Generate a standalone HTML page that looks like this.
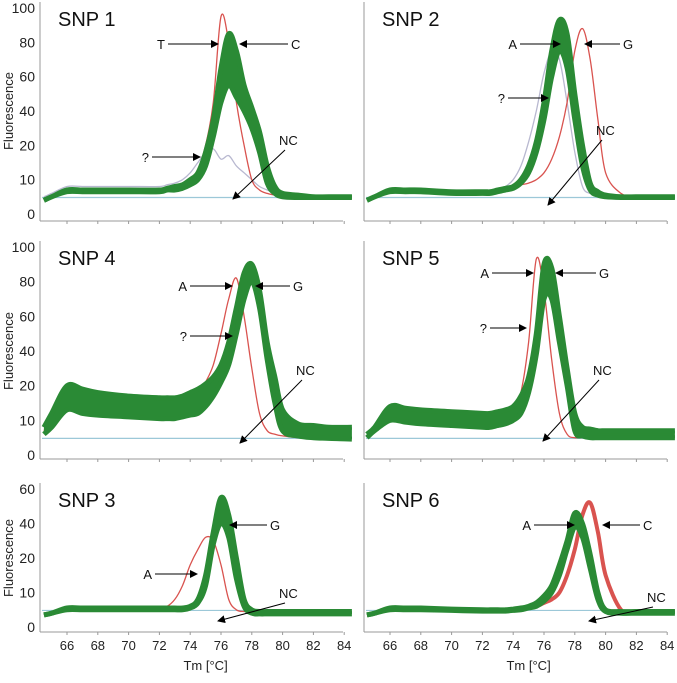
<!DOCTYPE html>
<html><head><meta charset="utf-8">
<style>
body{margin:0;background:#fff;}
svg{display:block;font-family:"Liberation Sans",sans-serif;}
</style></head>
<body>
<svg id="chart" width="677" height="683" viewBox="0 0 677 683"></svg>
<script>
// Shared temperature sample points (°C)
const temps = [64.5,65,66,67,68,70,72,72.5,73,73.5,74,74.5,75,75.5,76,76.5,77,77.5,78,78.5,79,79.5,80,81,82,83,84.5];
const xTicks = [66,68,70,72,74,76,78,80,82,84];
const yTicksBig = [0,10,20,40,60,80,100];
const yTicksSmall = [0,10,20,40,60];

// SNP 1
const snp1GreenHigh = [4,5,7,7,7,7,7,7.5,8,8.5,10,12,18,35,65,85,75,55,42,28,14,8,6,5.5,5,5,5];
const snp1GreenLow  = [4,5,6.5,6.5,6.5,6.5,6.5,7,7,7.5,8.5,10,14,25,45,55,48,40,30,18,9,6,5,4.8,4.8,4.8,4.8];
const snp1Red       = [4,5,7,7,7,7,7,7.5,8,8.5,10,13,20,45,95,80,45,20,10,7,6,5.5,5,5,5,5,5];
const snp1Gray      = [5,6,8,8,8,8,8,8.5,9,10,12,15,18,19,16,17,14,12,10,8,7,6,5.5,5,5,5,5];
// SNP 2
const snp2GreenHigh = [4,5,7,7,7,6.5,6.5,6.5,7,7.5,8,10,14,22,45,75,93,85,50,20,9,6.5,5.5,5,5,5,5];
const snp2GreenLow  = [4,5,6.5,6.5,6.5,6,6,6,6.5,7,7.5,9,12,18,35,60,75,65,35,14,7,5.5,5,4.8,4.8,4.8,4.8];
const snp2Red       = [4,5,7,7,7,6.5,6.5,6.5,7,7.5,8,8.5,9,10,12,16,25,45,75,88,70,35,12,6,5,5,5];
const snp2Gray      = [4,5,7,7,7,6.5,6.5,6.5,7,8,10,14,22,40,62,75,70,45,18,8,6,5.5,5,5,5,5,5];
// SNP 4
const snp4GreenHigh = [8,12,20,19,18,17,16.5,16.5,16.5,17,18,19,21,25,32,45,65,85,90,75,45,25,13,9,8.5,8,8];
const snp4GreenLow  = [6,8,13,12,11.5,11,10.5,10.5,10.5,11,11.5,12,14,17,22,32,50,70,80,65,35,15,7,5.5,5,4.8,4.6];
const snp4Red       = [7,10,16,15,14,13.5,13,13,13.5,14,15,17,22,32,50,70,82,60,30,12,7,6,5.5,5,5,5,5];
// SNP 5
const snp5GreenHigh = [6,8,14,13.5,13,12.5,12,12,12.5,13,14,17,25,50,90,88,60,30,12,8,7.5,7,7,7,7,7,7];
const snp5GreenLow  = [5,7,10,9.5,9,8.5,8,8,8.5,9,10,12,18,38,70,70,45,20,7,5.5,5,5,5,5,5,5,5];
const snp5Red       = [5,7,11,10.5,10,9.5,9,9,9.5,10,12,18,45,93,75,35,12,6,5,5,5,5,5,5,5,5,5];
// SNP 3
const snp3GreenHigh = [3.5,4,5.5,5.5,5.5,5.5,5.5,5.5,5.5,5.5,6,8,15,35,55,45,20,8,5,4.5,4.5,4.5,4.5,4.5,4.5,4.5,4.5];
const snp3GreenLow  = [3.5,4,5,5,5,5,5,5,5,5,5.5,7,12,28,40,32,14,6,4,3.8,3.8,3.8,3.8,3.8,3.8,3.8,3.8];
const snp3Red       = [3.5,4,5.5,5.5,5.5,5.5,5.5,6,8,12,18,25,32,30,18,8,5,4.5,4.5,4.5,4.5,4.5,4.5,4.5,4.5,4.5,4.5];
// SNP 6
const snp6GreenHigh = [3.5,4,5.5,5.5,5.5,5.2,5,5,5,5,5.2,5.5,6,7,9,12,18,30,46,40,22,10,5,4.5,4.5,4.5,4.5];
const snp6GreenLow  = [3.5,4,5,5,5,4.8,4.6,4.6,4.6,4.6,4.8,5,5.5,6,7.5,10,15,25,38,32,17,8,4.5,4,4,4,4];
const snp6Red       = [3.5,4,5.5,5.5,5.5,5.2,5,5,5,5,5,5.2,5.5,6,7,8,10,15,25,45,52,35,15,5,4.5,4.5,4.5];
const ncLevel = 4.8;

const NS="http://www.w3.org/2000/svg";
const svg=document.getElementById('chart');
function mk(tag,attrs,parent){const e=document.createElementNS(NS,tag);for(const k in attrs)e.setAttribute(k,attrs[k]);(parent||svg).appendChild(e);return e;}

const panels=[
 {id:'snp-1',title:'SNP 1',left:40,x66:67,yTop:8,yBot:214,axisY:221,ticks:yTicksBig,hi:snp1GreenHigh,lo:snp1GreenLow,red:snp1Red,gray:snp1Gray,ylabel:true,xlabels:false,
  ann:[['T',168,44,218,44],['C',288,44,240,44],['?',152,157,200,157],['NC',285,150,233,199]]},
 {id:'snp-2',title:'SNP 2',left:364,x66:390,yTop:8,yBot:214,axisY:221,ticks:yTicksBig,hi:snp2GreenHigh,lo:snp2GreenLow,red:snp2Red,gray:snp2Gray,ylabel:false,xlabels:false,
  ann:[['A',520,44,560,44],['G',620,44,585,44],['?',508,98,548,98],['NC',602,140,548,205]]},
 {id:'snp-4',title:'SNP 4',left:40,x66:67,yTop:247,yBot:455,axisY:459,ticks:yTicksBig,hi:snp4GreenHigh,lo:snp4GreenLow,red:snp4Red,gray:null,ylabel:true,xlabels:false,
  ann:[['A',190,286,232,286],['G',290,286,256,286],['?',190,336,232,336],['NC',302,380,240,443]]},
 {id:'snp-5',title:'SNP 5',left:364,x66:390,yTop:247,yBot:455,axisY:459,ticks:yTicksBig,hi:snp5GreenHigh,lo:snp5GreenLow,red:snp5Red,gray:null,ylabel:false,xlabels:false,
  ann:[['A',492,273,533,273],['G',596,273,556,273],['?',490,328,526,328],['NC',599,380,543,441]]},
 {id:'snp-3',title:'SNP 3',left:40,x66:67,yTop:489,yBot:627,axisY:632,ticks:yTicksSmall,hi:snp3GreenHigh,lo:snp3GreenLow,red:snp3Red,gray:null,ylabel:true,xlabels:true,
  ann:[['G',267,525,230,525],['A',155,574,197,574],['NC',285,603,218,621]]},
 {id:'snp-6',title:'SNP 6',left:364,x66:390,yTop:489,yBot:627,axisY:632,ticks:yTicksSmall,hi:snp6GreenHigh,lo:snp6GreenLow,red:snp6Red,gray:null,ylabel:false,xlabels:true,
  ann:[['A',534,525,574,525],['C',640,525,603,525],['NC',653,607,589,621]]}
];

const defs=mk('defs',{});
const mkr=mk('marker',{id:'ah',markerWidth:8,markerHeight:8,refX:7,refY:4,orient:'auto',markerUnits:'userSpaceOnUse'},defs);
mk('path',{d:'M0,0 L8,4 L0,8 Z',fill:'#000'},mkr);

function smooth(pts,start){
  let d=start?('M'+pts[0][0].toFixed(1)+','+pts[0][1].toFixed(1)):('L'+pts[0][0].toFixed(1)+','+pts[0][1].toFixed(1));
  for(let i=0;i<pts.length-1;i++){
    const p0=pts[i-1]||pts[i],p1=pts[i],p2=pts[i+1],p3=pts[i+2]||p2;
    const c1=[p1[0]+(p2[0]-p0[0])/6,p1[1]+(p2[1]-p0[1])/6];
    const c2=[p2[0]-(p3[0]-p1[0])/6,p2[1]-(p3[1]-p1[1])/6];
    d+=` C${c1[0].toFixed(1)},${c1[1].toFixed(1)} ${c2[0].toFixed(1)},${c2[1].toFixed(1)} ${p2[0].toFixed(1)},${p2[1].toFixed(1)}`;
  }
  return d;
}

panels.forEach(p=>{
  const g=mk('g',{});
  
  
  const xs=t=>p.x66+(t-66)*15.4;
  const n=p.ticks.length-1;
  const ys=v=>{
    let i=0;while(i<n-1&&v>p.ticks[i+1])i++;
    const f=(v-p.ticks[i])/(p.ticks[i+1]-p.ticks[i]);
    return p.yBot-(i+f)*(p.yBot-p.yTop)/n;
  };
  const right=p.left+303;
  const ax=mk('line',{x1:p.left,y1:p.yTop-6,x2:p.left,y2:p.axisY,stroke:'#999','stroke-width':1},g);
  
  const bx=mk('line',{x1:p.left,y1:p.axisY,x2:right,y2:p.axisY,stroke:'#999','stroke-width':1},g);
  
  xTicks.forEach(t=>{
    mk('line',{x1:xs(t),y1:p.axisY,x2:xs(t),y2:p.axisY+3,stroke:'#999'},g);
    if(p.xlabels){const tx=mk('text',{x:xs(t),y:p.axisY+18,'font-size':13,'text-anchor':'middle',fill:'#222'},g);
      tx.textContent=t;}
  });
  if(p.ylabel){p.ticks.forEach(v=>{
    const tx=mk('text',{x:p.left-5,y:ys(v)+5,'font-size':14,'text-anchor':'end',fill:'#222'},g);
    tx.textContent=v;});
    const yl=mk('text',{transform:`translate(13,${(p.yTop+p.yBot)/2}) rotate(-90)`,'font-size':13,'text-anchor':'middle',fill:'#222'},g);
    yl.textContent='Fluorescence';
  }
  if(p.xlabels){const xl=mk('text',{x:p.x66+(75-66)*15.4,y:p.axisY+38,'font-size':13,'text-anchor':'middle',fill:'#222'},g);
    xl.textContent='Tm [°C]';}
  const pts=arr=>arr.map((v,i)=>[xs(temps[i]),ys(v)]);
  const path=arr=>smooth(pts(arr),true);
  const nc=mk('line',{x1:p.left+2,y1:ys(ncLevel),x2:right,y2:ys(ncLevel),stroke:'#9cc8d8','stroke-width':1.2},g);
  
  if(p.gray){const gr=mk('path',{d:path(p.gray),fill:'none',stroke:'#b8b8d0','stroke-width':1.3},g);
    }
  const isThickRed=p.id==='snp-6';
  const r=mk('path',{d:path(p.red),fill:'none',stroke:'#d9534f','stroke-width':isThickRed?4:1.3},g);
  
  const band=mk('path',{d:path(p.hi)+' '+smooth(pts(p.lo).reverse(),false)+' Z',fill:'#2a8a35'},g);
  
  const gl=mk('path',{d:path(p.lo),fill:'none',stroke:'#2a8a35','stroke-width':5},g);
  
  const gh=mk('path',{d:path(p.hi),fill:'none',stroke:'#2a8a35','stroke-width':5},g);
  
  const tt=mk('text',{x:p.left+18,y:p.yTop+18,'font-size':20,fill:'#111'},g);
  tt.textContent=p.title;
  p.ann.forEach(a=>{
    const [lab,x1,y1,x2,y2]=a;
    const isLeft=x2>x1;
    const tx=mk('text',{x:isLeft?x1-3:x1+3,y:y1+5,'font-size':13,'text-anchor':isLeft?'end':'start',fill:'#111'},g);
    if(lab==='NC'){tx.setAttribute('x',x1-6);tx.setAttribute('y',y1-5);tx.setAttribute('text-anchor','start');}
    tx.textContent=lab;
    const ln=mk('line',{x1:x1,y1:y1,x2:x2,y2:y2,stroke:'#000','stroke-width':1,'marker-end':'url(#ah)'},g);
    
  });
});
</script>
</body></html>
